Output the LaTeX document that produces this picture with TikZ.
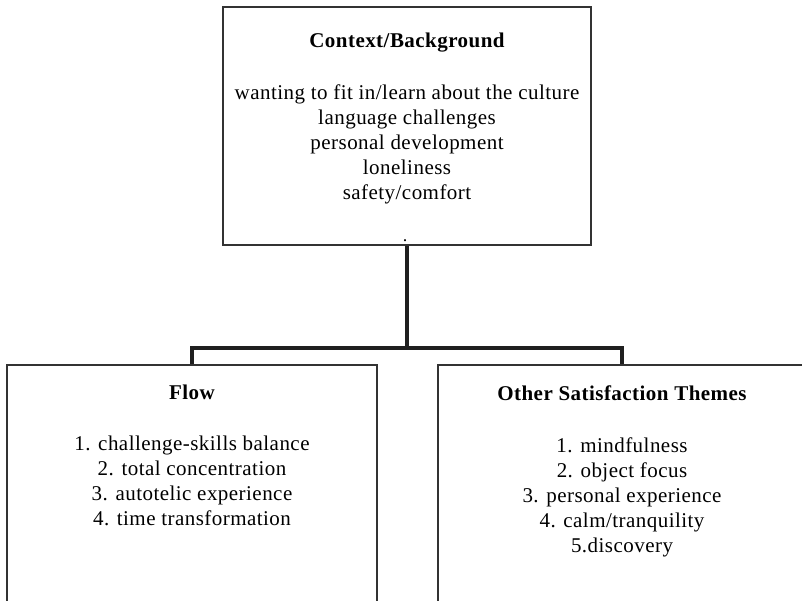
\documentclass[tikz,border=0pt]{standalone}
\usepackage{fontspec}
\setmainfont{Liberation Serif}[LetterSpace=2.2]
\begin{document}
\begin{tikzpicture}[x=1pt,y=-1pt,
  box/.style={draw=black!80, line width=1.2pt, inner sep=0pt},
  conn/.style={draw=black!88, line width=4.2pt, line join=miter},
  head/.style={font=\fontsize{21}{25}\selectfont\bfseries, inner sep=0pt},
  items/.style={font=\fontsize{21}{25}\selectfont, align=center, inner sep=0pt}]
  \clip (0,0) rectangle (802,600);
  \useasboundingbox (0,0) rectangle (802,600);
  % three boxes
  \node[box, minimum width=368pt, minimum height=238pt] (ctx) at (407,126) {};
  \node[box, minimum width=370pt, minimum height=270pt] (flow) at (192,500) {};
  \node[box, minimum width=368pt, minimum height=270pt] (other) at (622,500) {};
  % connectors
  \coordinate (j) at (407,348);
  \draw[conn] (ctx.south) -- (j);
  \draw[conn] (flow.north) |- (j) -| (other.north);
  % texts of the top box
  \node[head] (ctxh) at (407,43) {Context/Background};
  \node[items, anchor=north] (ctxt) at (407,85) {wanting to fit in/learn about the culture\\
    language challenges\\ personal development\\ loneliness\\ safety/comfort};
  \node[inner sep=0pt, font=\fontsize{18}{18}\selectfont] (dot) at (405,241) {.};
  % texts of the left box
  \node[head] (flowh) at (192,392) {Flow};
  \node[items, anchor=north] (flowt) at (192,436) {1. challenge-skills balance\\
    2. total concentration\\ 3. autotelic experience\\ 4. time transformation};
  % texts of the right box
  \node[head] (otherh) at (622,393) {Other Satisfaction Themes};
  \node[items, anchor=north] (othert) at (622,438) {1. mindfulness\\ 2. object focus\\
    3. personal experience\\ 4. calm/tranquility\\ 5.discovery};
\end{tikzpicture}
\end{document}
